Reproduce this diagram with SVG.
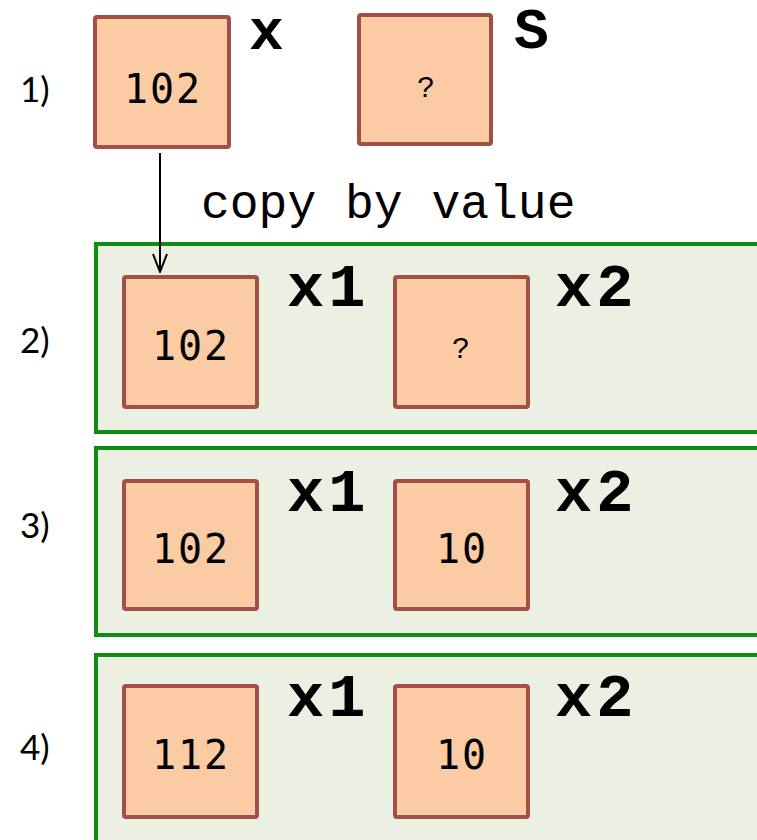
<svg xmlns="http://www.w3.org/2000/svg" width="757" height="840" viewBox="0 0 757 840">
<style>
.box{fill:#fbcba3;stroke:#a14f47;stroke-width:4}
.panel{fill:#ecf0e2;stroke:#0f8c12;stroke-width:4}
.num{font-family:"DejaVu Sans Mono","Liberation Mono",monospace;font-size:40px;letter-spacing:2px;fill:#000;text-anchor:middle}
.q{font-family:"Liberation Mono",monospace;font-size:30px;fill:#000;text-anchor:middle}
.var{font-family:"Liberation Mono","Courier New",monospace;font-size:62px;font-weight:bold;letter-spacing:4px;fill:#000}
.var1{font-family:"Liberation Mono","Courier New",monospace;font-size:58px;font-weight:bold;fill:#000}
.row{font-family:Lato,"Open Sans",sans-serif;font-size:35px;fill:#000}
.lbl{font-family:"Liberation Mono","Courier New",monospace;font-size:48px;fill:#000}
</style>
<defs>
<marker id="arr" markerWidth="20" markerHeight="16" refX="19" refY="8" orient="auto" markerUnits="userSpaceOnUse" viewBox="0 0 20 16">
<path d="M1,1 L19,8 L1,15" fill="none" stroke="#000" stroke-width="2"/>
</marker>
</defs>
<text class="row" x="20" y="102">1)</text>
<text class="row" x="20" y="353">2)</text>
<text class="row" x="20" y="538">3)</text>
<text class="row" x="20" y="760">4)</text>
<g id="row1">
<g id="x"><rect class="box" x="95" y="17" width="134" height="130" rx="2"/><text class="num" x="163" y="103">102</text><text class="var1" x="249" y="49">x</text></g>
<g id="s"><rect class="box" x="359" y="15" width="132" height="129" rx="2"/><text class="q" x="426" y="97">?</text><text class="var1" x="514" y="48">S</text></g>
</g>
<g id="panel2">
<rect class="panel" x="96" y="244" width="670" height="188"/>
<g id="p2x1"><rect class="box" x="124" y="277" width="133" height="130" rx="2"/><text class="num" x="191" y="360">102</text><text class="var" x="287" y="306">x1</text></g>
<g id="p2x2"><rect class="box" x="395" y="277" width="133" height="130" rx="2"/><text class="q" x="461" y="358">?</text><text class="var" x="555" y="306">x2</text></g>
</g>
<g id="panel3">
<rect class="panel" x="96" y="448" width="670" height="187"/>
<g id="p3x1"><rect class="box" x="124" y="481" width="133" height="128" rx="2"/><text class="num" x="191" y="563">102</text><text class="var" x="287" y="511">x1</text></g>
<g id="p3x2"><rect class="box" x="395" y="481" width="133" height="128" rx="2"/><text class="num" x="462" y="563">10</text><text class="var" x="555" y="511">x2</text></g>
</g>
<g id="panel4">
<rect class="panel" x="96" y="655" width="670" height="200"/>
<g id="p4x1"><rect class="box" x="124" y="686" width="133" height="131" rx="2"/><text class="num" x="191" y="769">112</text><text class="var" x="287" y="716">x1</text></g>
<g id="p4x2"><rect class="box" x="395" y="686" width="133" height="131" rx="2"/><text class="num" x="462" y="769">10</text><text class="var" x="555" y="716">x2</text></g>
</g>
<g id="connectors">
<line x1="160" y1="153" x2="160" y2="272" stroke="#000" stroke-width="2" marker-end="url(#arr)"/>
<text class="lbl" x="201" y="218">copy by value</text>
</g>
</svg>
